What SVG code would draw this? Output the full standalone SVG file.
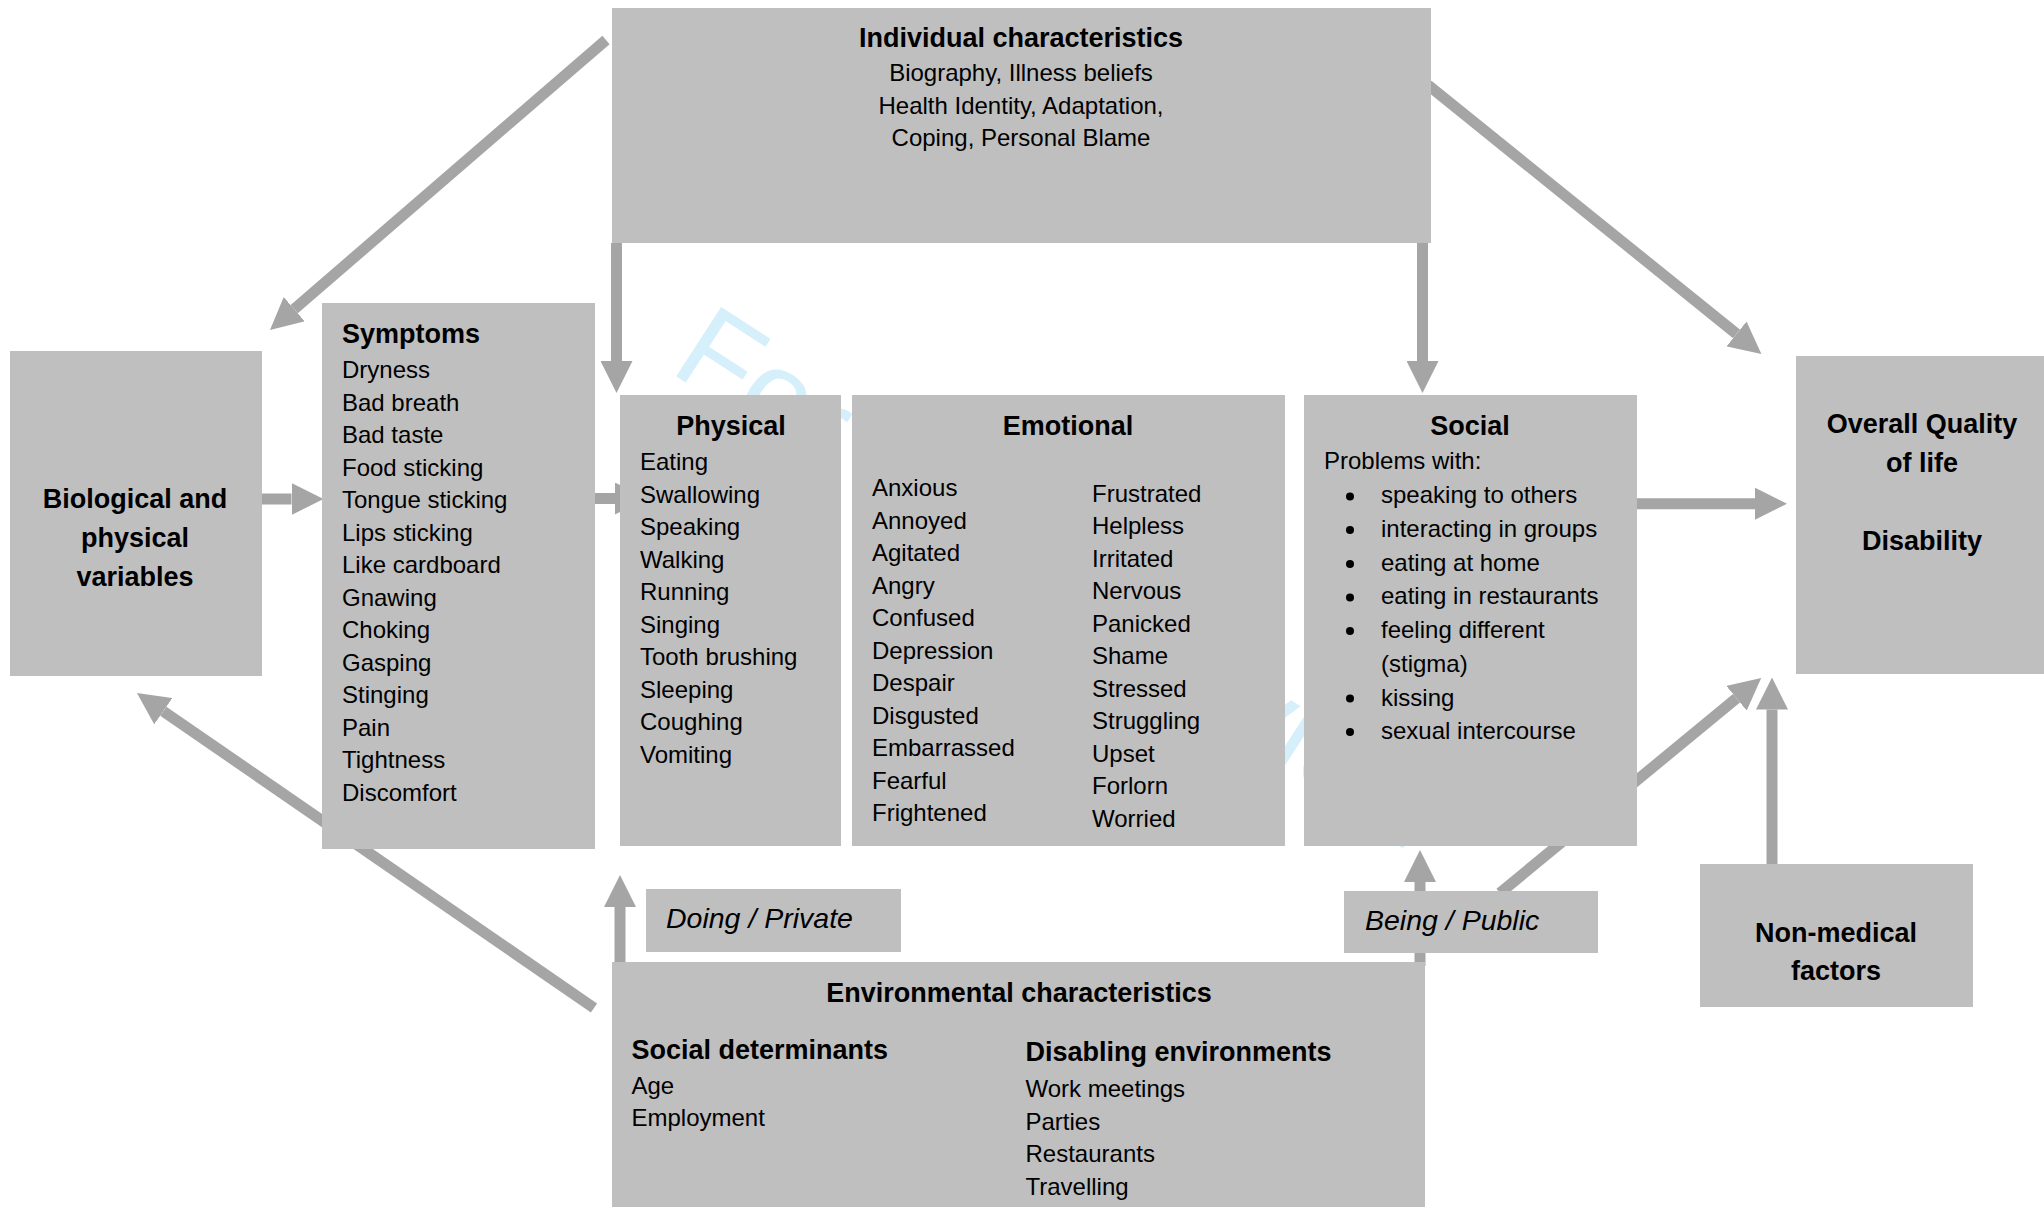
<svg xmlns="http://www.w3.org/2000/svg" width="2044" height="1207" viewBox="0 0 2044 1207">
<style>
.box{fill:#bfbfbf}
.t{font-family:"Liberation Sans",Arial,sans-serif;font-size:24px;fill:#000}
.b{font-weight:bold;font-size:27px}
.i{font-style:italic;font-size:28.5px}
.c{text-anchor:middle}
.con{stroke:#a5a5a5;stroke-width:11;fill:none;marker-end:url(#ah)}
.wm{font-family:"Liberation Sans",Arial,sans-serif;font-size:120px;fill:#d5effb}
</style>
<defs>
<marker id="ah" markerUnits="userSpaceOnUse" viewBox="0 0 32 32" markerWidth="32" markerHeight="32" refX="0" refY="16" orient="auto">
<path d="M0,0 L32,16 L0,32 z" fill="#a5a5a5"/>
</marker>
</defs>
<rect width="2044" height="1207" fill="#ffffff"/>
<text class="wm" x="668" y="371" transform="rotate(33 668 371)">For Peer Review</text>
<g id="connectors">
<line class="con" x1="606" y1="40" x2="294.2" y2="309.1"/>
<line class="con" x1="616.5" y1="243" x2="616.5" y2="361"/>
<line class="con" x1="1422.5" y1="243" x2="1422.5" y2="361"/>
<line class="con" x1="1428" y1="85" x2="1736.5" y2="333.9"/>
<line class="con" x1="262" y1="499" x2="291.5" y2="499"/>
<line class="con" x1="595" y1="498.5" x2="615" y2="498.5"/>
<line class="con" x1="1637" y1="503.7" x2="1755" y2="503.7"/>
<line class="con" x1="594" y1="1008" x2="163.3" y2="711.2"/>
<line class="con" x1="620" y1="962" x2="620" y2="907"/>
<line class="con" x1="1420" y1="966" x2="1420" y2="882"/>
<line class="con" x1="1500" y1="893" x2="1736.5" y2="698.3"/>
<line class="con" x1="1772" y1="864" x2="1772" y2="709.5"/>
</g>
<g id="individual">
<rect class="box" x="612" y="8" width="819" height="235"/>
<text class="t b c" x="1021" y="47">Individual characteristics</text>
<text class="t c" x="1021" y="81">Biography, Illness beliefs</text>
<text class="t c" x="1021" y="114">Health Identity, Adaptation,</text>
<text class="t c" x="1021" y="146">Coping, Personal Blame</text>
</g>
<g id="biological">
<rect class="box" x="10" y="351" width="252" height="325"/>
<text class="t b c" x="135" y="508">Biological and</text>
<text class="t b c" x="135" y="547">physical</text>
<text class="t b c" x="135" y="586">variables</text>
</g>
<g id="symptoms">
<rect class="box" x="322" y="303" width="273" height="546"/>
<text class="t b" x="342" y="343">Symptoms</text>
<text class="t" x="342" y="378"><tspan x="342">Dryness</tspan><tspan x="342" dy="32.5">Bad breath</tspan><tspan x="342" dy="32.5">Bad taste</tspan><tspan x="342" dy="32.5">Food sticking</tspan><tspan x="342" dy="32.5">Tongue sticking</tspan><tspan x="342" dy="32.5">Lips sticking</tspan><tspan x="342" dy="32.5">Like cardboard</tspan><tspan x="342" dy="32.5">Gnawing</tspan><tspan x="342" dy="32.5">Choking</tspan><tspan x="342" dy="32.5">Gasping</tspan><tspan x="342" dy="32.5">Stinging</tspan><tspan x="342" dy="32.5">Pain</tspan><tspan x="342" dy="32.5">Tightness</tspan><tspan x="342" dy="32.5">Discomfort</tspan></text>
</g>
<g id="physical">
<rect class="box" x="620" y="395" width="221" height="451"/>
<text class="t b c" x="731" y="435">Physical</text>
<text class="t" x="640" y="470"><tspan x="640">Eating</tspan><tspan x="640" dy="32.5">Swallowing</tspan><tspan x="640" dy="32.5">Speaking</tspan><tspan x="640" dy="32.5">Walking</tspan><tspan x="640" dy="32.5">Running</tspan><tspan x="640" dy="32.5">Singing</tspan><tspan x="640" dy="32.5">Tooth brushing</tspan><tspan x="640" dy="32.5">Sleeping</tspan><tspan x="640" dy="32.5">Coughing</tspan><tspan x="640" dy="32.5">Vomiting</tspan></text>
</g>
<g id="emotional">
<rect class="box" x="852" y="395" width="433" height="451"/>
<text class="t b c" x="1068" y="435">Emotional</text>
<text class="t" x="872" y="496"><tspan x="872">Anxious</tspan><tspan x="872" dy="32.5">Annoyed</tspan><tspan x="872" dy="32.5">Agitated</tspan><tspan x="872" dy="32.5">Angry</tspan><tspan x="872" dy="32.5">Confused</tspan><tspan x="872" dy="32.5">Depression</tspan><tspan x="872" dy="32.5">Despair</tspan><tspan x="872" dy="32.5">Disgusted</tspan><tspan x="872" dy="32.5">Embarrassed</tspan><tspan x="872" dy="32.5">Fearful</tspan><tspan x="872" dy="32.5">Frightened</tspan></text>
<text class="t" x="1092" y="501.5"><tspan x="1092">Frustrated</tspan><tspan x="1092" dy="32.5">Helpless</tspan><tspan x="1092" dy="32.5">Irritated</tspan><tspan x="1092" dy="32.5">Nervous</tspan><tspan x="1092" dy="32.5">Panicked</tspan><tspan x="1092" dy="32.5">Shame</tspan><tspan x="1092" dy="32.5">Stressed</tspan><tspan x="1092" dy="32.5">Struggling</tspan><tspan x="1092" dy="32.5">Upset</tspan><tspan x="1092" dy="32.5">Forlorn</tspan><tspan x="1092" dy="32.5">Worried</tspan></text>
</g>
<g id="social">
<rect class="box" x="1304" y="395" width="333" height="451"/>
<text class="t b c" x="1470" y="435">Social</text>
<text class="t" x="1324" y="469">Problems with:</text>
<g fill="#000">
<circle cx="1350" cy="496.5" r="4"/>
<circle cx="1350" cy="530" r="4"/>
<circle cx="1350" cy="564" r="4"/>
<circle cx="1350" cy="597.5" r="4"/>
<circle cx="1350" cy="631" r="4"/>
<circle cx="1350" cy="698.5" r="4"/>
<circle cx="1350" cy="732" r="4"/>
</g>
<text class="t" x="1381" y="503.3"><tspan x="1381">speaking to others</tspan><tspan x="1381" dy="33.7">interacting in groups</tspan><tspan x="1381" dy="33.7">eating at home</tspan><tspan x="1381" dy="33.7">eating in restaurants</tspan><tspan x="1381" dy="33.7">feeling different</tspan><tspan x="1381" dy="33.7">(stigma)</tspan><tspan x="1381" dy="33.7">kissing</tspan><tspan x="1381" dy="33.7">sexual intercourse</tspan></text>
</g>
<g id="overall">
<rect class="box" x="1796" y="356" width="248" height="318"/>
<text class="t b c" x="1922" y="433">Overall Quality</text>
<text class="t b c" x="1922" y="472">of life</text>
<text class="t b c" x="1922" y="550">Disability</text>
</g>
<g id="nonmedical">
<rect class="box" x="1700" y="864" width="273" height="143"/>
<text class="t b c" x="1836" y="942">Non-medical</text>
<text class="t b c" x="1836" y="980">factors</text>
</g>
<g id="doing">
<rect class="box" x="646" y="889" width="255" height="63"/>
<text class="t i" x="666" y="928">Doing / Private</text>
</g>
<g id="being">
<rect class="box" x="1344" y="891" width="254" height="62"/>
<text class="t i" x="1365" y="930">Being / Public</text>
</g>
<g id="environmental">
<rect class="box" x="612" y="962" width="813" height="245"/>
<text class="t b c" x="1019" y="1002">Environmental characteristics</text>
<text class="t b" x="631.5" y="1059">Social determinants</text>
<text class="t" x="631.5" y="1094">Age</text>
<text class="t" x="631.5" y="1126">Employment</text>
<text class="t b" x="1025.5" y="1061">Disabling environments</text>
<text class="t" x="1025.5" y="1097"><tspan x="1025.5">Work meetings</tspan><tspan x="1025.5" dy="32.5">Parties</tspan><tspan x="1025.5" dy="32.5">Restaurants</tspan><tspan x="1025.5" dy="32.5">Travelling</tspan></text>
</g>
</svg>
